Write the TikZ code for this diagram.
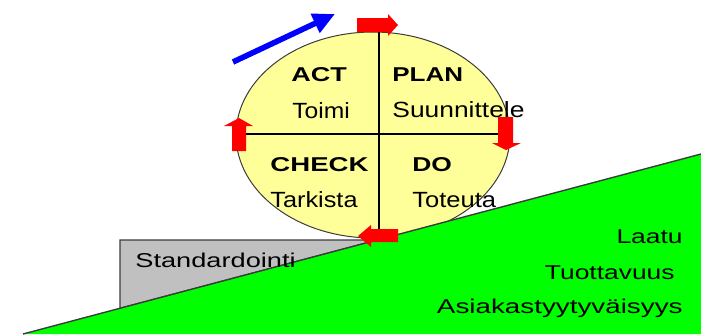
\documentclass[tikz,border=0pt]{standalone}
\usepackage{fontspec}
\setmainfont{Liberation Sans}
\usepackage{graphicx}
\usetikzlibrary{arrows.meta}
\definecolor{paleyel}{RGB}{255,255,153}
\definecolor{slopegreen}{RGB}{0,255,0}
\definecolor{blockgray}{RGB}{192,192,192}
\definecolor{pdcared}{RGB}{255,0,0}
\definecolor{pushblue}{RGB}{0,0,255}
\definecolor{edgegray}{RGB}{60,60,60}
\newcommand{\widetxt}[2]{\scalebox{#1}[1]{#2}}
\begin{document}
\begin{tikzpicture}[x=0.5pt,y=-0.5pt,
  boldlbl/.style={inner sep=0pt, font=\fontsize{10}{12}\selectfont\bfseries},
  sublbl/.style={inner sep=0pt, font=\fontsize{11}{13}\selectfont},
  botlbl/.style={inner sep=0pt, font=\fontsize{10}{12}\selectfont},
  redarrow/.style={fill=pdcared, draw=none},
  crossline/.style={draw=black, line width=0.6pt}]
\useasboundingbox (0,0) rectangle (701,334);

% gray block
\filldraw[fill=blockgray, draw=edgegray, line width=0.6pt]
  (120,308.3) -- (120,240) -- (377,240) -- cycle;

% wheel
\filldraw[fill=paleyel, draw=edgegray, line width=0.5pt]
  (373,135) ellipse [x radius=137, y radius=103];

% green slope
\fill[slopegreen] (23,334) -- (701,154) -- (701,334) -- cycle;
\draw[edgegray, line width=0.7pt] (23,334) -- (701,154);

% cross lines
\draw[crossline] (379,32.1) -- (379,237.9);
\draw[crossline] (236,134) -- (510,134);

% labels
\node[boldlbl, anchor=base west] (act) at (291,81) {\widetxt{1.35}{ACT}};
\node[sublbl, anchor=base west] (toimi) at (292,118) {\widetxt{1.12}{Toimi}};
\node[boldlbl, anchor=base west] (plan) at (392,81) {\widetxt{1.3}{PLAN}};
\node[sublbl, anchor=base west] (suun) at (392,117) {\widetxt{1.2}{Suunnittele}};
\node[boldlbl, anchor=base west] (check) at (270,171) {\widetxt{1.38}{CHECK}};
\node[boldlbl, anchor=base west] (do) at (412,171) {\widetxt{1.32}{DO}};
\node[sublbl, anchor=base west] (tark) at (270,207) {\widetxt{1.15}{Tarkista}};
\node[sublbl, anchor=base west] (tot) at (412,207) {\widetxt{1.16}{Toteuta}};
\node[botlbl, anchor=base west] (std) at (135,267) {\widetxt{1.36}{Standardointi}};
\node[botlbl, anchor=base east] (laatu) at (683,243) {\widetxt{1.32}{Laatu}};
\node[botlbl, anchor=base east] (tuott) at (675,279) {\widetxt{1.32}{Tuottavuus}};
\node[botlbl, anchor=base east] (asiak) at (683,313) {\widetxt{1.39}{Asiakastyytyväisyys}};

% red block arrows
\fill[redarrow] (357,18) -- (388,18) -- (388,14) -- (398,25) -- (388,36) -- (388,32) -- (357,32) -- cycle;
\fill[redarrow] (498,117) -- (513,117) -- (513,143) -- (521,143) -- (506,150) -- (492,143) -- (498,143) -- cycle;
\fill[redarrow] (398,229) -- (371,229) -- (371,225) -- (358,236) -- (371,247) -- (371,242) -- (398,242) -- cycle;
\fill[redarrow] (232,151) -- (232,126) -- (224,126) -- (239,118) -- (253,126) -- (246,126) -- (246,151) -- cycle;

% blue push arrow
\coordinate (bstart) at (233,62);
\coordinate (bend) at (335,14);
\draw[pushblue, line width=2.8pt, -{Triangle[length=11pt,width=10pt]}] (bstart) -- (bend);
\end{tikzpicture}
\end{document}
